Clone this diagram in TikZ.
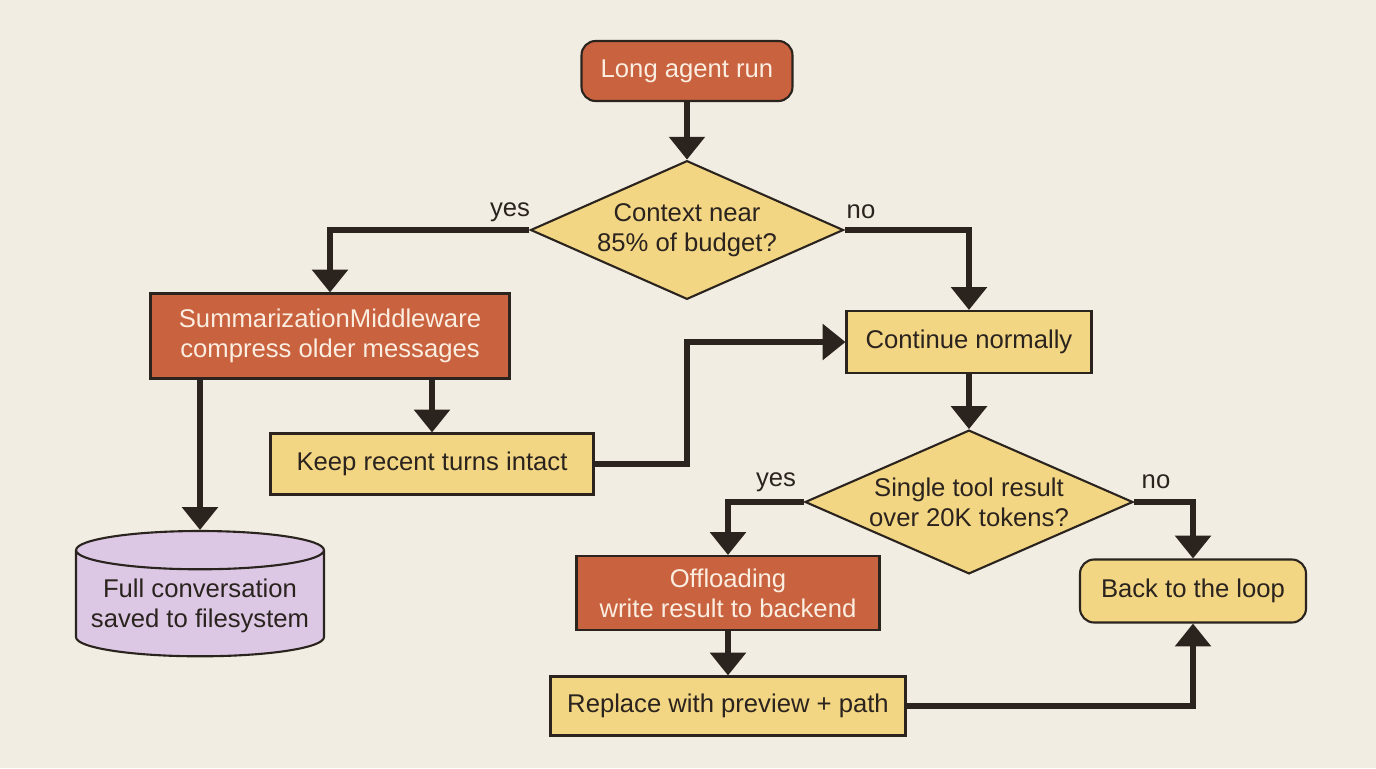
\documentclass[tikz,border=0pt]{standalone}
\usepackage{fontspec}
\setmainfont{Liberation Sans}
\usetikzlibrary{shapes.geometric,arrows.meta}
\definecolor{bgc}{HTML}{F2EDE2}
\definecolor{rust}{HTML}{C8623F}
\definecolor{sand}{HTML}{F3D684}
\definecolor{lilac}{HTML}{DCC8E4}
\definecolor{ink}{HTML}{2A231E}
\definecolor{paper}{HTML}{FBEDE0}
\tikzstyle{box}=[draw=ink,line width=1.2pt,align=center,font=\fontsize{14.6}{17}\selectfont,inner sep=2pt]
\tikzstyle{action}=[box,fill=rust,text=paper]
\tikzstyle{note}=[box,fill=sand,text=ink]
\tikzstyle{ask}=[box,diamond,fill=sand,text=ink,inner sep=0pt,shape aspect=2.1]
\tikzstyle{flow}=[draw=ink,line width=3pt,-{Triangle[length=13pt,width=20pt]}]
\tikzstyle{lbl}=[font=\fontsize{14.6}{17}\selectfont,text=ink]

\begin{document}
\begin{tikzpicture}[x=0.02cm,y=-0.02cm]
    \useasboundingbox[fill=bgc] (0,0) rectangle (1376,768);
    \node[action,rounded corners=8pt,minimum width=4.22cm,minimum height=1.2cm] (run) at (687,71) {Long agent run};
    \node[ask,minimum width=6.26cm] (ctx) at (687,230) {Context near\\85\% of budget?};
    \node[action,minimum width=7.18cm,minimum height=1.7cm] (sum) at (330,336) {SummarizationMiddleware\\compress older messages};
    \node[note,minimum width=4.9cm,minimum height=1.24cm] (cont) at (969,342) {Continue normally};
    \node[note,minimum width=6.46cm,minimum height=1.22cm] (keep) at (432,464) {Keep recent turns intact};
    \node[box,cylinder,shape border rotate=90,aspect=0.17,inner ysep=5pt,fill=lilac,text=ink,minimum width=4.96cm] (full) at (200,606) {Full conversation\\saved to filesystem};
    \node[ask,minimum width=6.56cm] (big) at (969,502) {Single tool result\\over 20K tokens?};
    \node[action,minimum width=6.06cm,minimum height=1.48cm] (off) at (728,593) {Offloading\\write result to backend};
    \node[note,rounded corners=8pt,minimum width=4.52cm,minimum height=1.26cm] (back) at (1193,591) {Back to the loop};
    \node[note,minimum width=7.1cm,minimum height=1.18cm] (rep) at (728,706) {Replace with preview + path};

    \path[flow] (run) -- (ctx);
    \path[flow] (ctx.west) -| (sum.north);
    \path[flow] (ctx.east) -| (cont.north);
    \path[flow] (sum.south -| keep.north) -- (keep.north);
    \path[flow] (sum.south -| full.north) -- (full.north);
    \path[flow] (keep.east) -| (687,342) -- (cont.west);
    \path[flow] (cont) -- (big);
    \path[flow] (big.west) -| (off.north);
    \path[flow] (big.east) -| (back.north);
    \path[flow] (off) -- (rep);
    \path[flow] (rep.east) -| (back.south);

    \node[lbl] (y1) at (510,212) {yes};
    \node[lbl] (n1) at (861,212) {no};
    \node[lbl] (y2) at (776,482) {yes};
    \node[lbl] (n2) at (1156,482) {no};
\end{tikzpicture}
\end{document}
